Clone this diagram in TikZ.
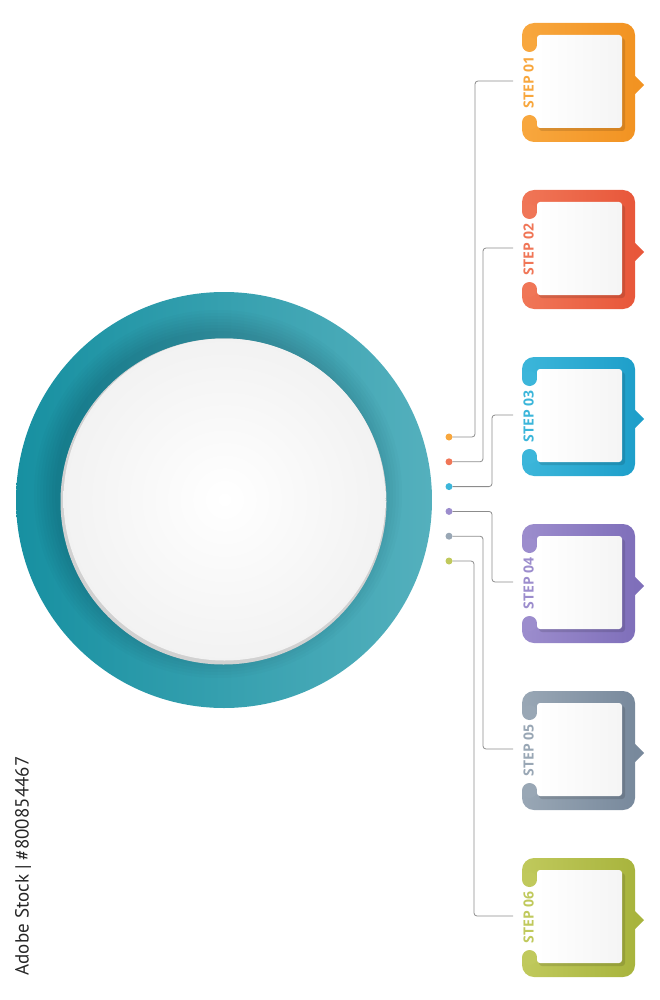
\documentclass[tikz,border=0pt]{standalone}
\usepackage{fontspec}
\setmainfont{Open Sans}
\newfontfamily\wmfont{PT Sans}
\usetikzlibrary{calc}
\definecolor{c1l}{HTML}{F8A73E}\definecolor{c1d}{HTML}{F29322}
\definecolor{c2l}{HTML}{F07657}\definecolor{c2d}{HTML}{E8573A}
\definecolor{c3l}{HTML}{3CB6DA}\definecolor{c3d}{HTML}{1E9FCA}
\definecolor{c4l}{HTML}{9C8DCD}\definecolor{c4d}{HTML}{7F6FBA}
\definecolor{c5l}{HTML}{99A7B5}\definecolor{c5d}{HTML}{78899C}
\definecolor{c6l}{HTML}{C0C95C}\definecolor{c6d}{HTML}{A8B43D}
\definecolor{ringdark}{HTML}{1790A1}
\definecolor{ringlight}{HTML}{54B0BD}
\definecolor{connc}{HTML}{8C8C8C}
\tikzset{
  conn/.style={draw=connc, line width=0.8pt, rounded corners=3pt},
  dot/.style={circle, inner sep=0pt, minimum size=7pt},
  steplabel/.style={rotate=90, font=\bfseries\fontsize{14}{14}\selectfont, inner sep=0pt},
}
\begin{document}
\begin{tikzpicture}[x=1pt,y=-1pt]
\useasboundingbox (0,0) rectangle (660,1000);
% big ring
\shade[left color=ringdark, right color=ringlight] (224,500) circle (208pt);
\begin{scope}
  \clip (224,500) circle (208pt);
  \foreach \r in {163,166,...,184}
    \fill[black, opacity=0.017] (218,494) circle (\r pt);
\end{scope}
\fill[black!18] (223.5,501.5) circle (163pt);
\shade[inner color=white, outer color=black!5] (224.5,499.5) circle (161pt);
% steps
\foreach \i/\cl/\cd/\vx in {1/c1l/c1d/475,2/c2l/c2d/483,3/c3l/c3d/492,4/c4l/c4d/492,5/c5l/c5d/483,6/c6l/c6d/474}{
  \pgfmathsetmacro\t{23+167*(\i-1)}
  \pgfmathsetmacro\dy{437+24.8*(\i-1)}
  \shade[left color=\cl, right color=\cd, rounded corners=12pt] (522,\t) rectangle (635,\t+119);
  \fill[\cd] (634,\t+52) -- (644,\t+62) -- (634,\t+72) -- cycle;
  \fill[white] (519,\t+21.5) rectangle (537.5,\t+99.5);
  \fill[\cl] (529.5,\t+21.5) circle (7.5pt);
  \fill[\cl] (529.5,\t+99.5) circle (7.5pt);
  \fill[black, opacity=0.12, rounded corners=3pt] (539,\t+15) rectangle (625,\t+108);
  \shade[left color=white, right color=black!4, rounded corners=3pt] (537,\t+12) rectangle (622,\t+105);
  \node[steplabel, text=\cl] (s\i) at (528.5,\t+59.5) {STEP 0\i};
  \coordinate (b\i) at (513,\t+58);
  \coordinate (v\i) at (\vx,0);
  \node[dot, fill=\cl] (d\i) at (449,\dy) {};
  \draw[conn] (d\i.east) -- (d\i -| v\i) |- (b\i);
}
\node[rotate=90, font=\wmfont\fontsize{19}{19}\selectfont, text=black!85, inner sep=0pt] (wm) at (23,866) {Adobe Stock | \#800854467};
\end{tikzpicture}
\end{document}
